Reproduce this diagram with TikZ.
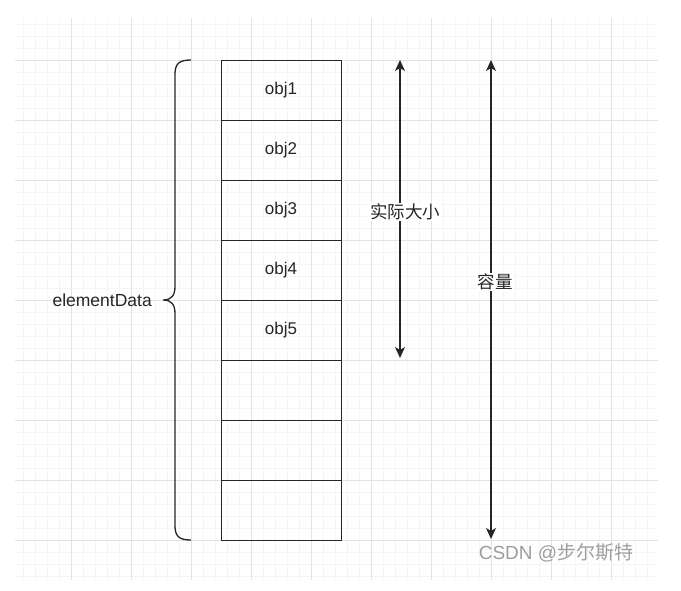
\documentclass[tikz,border=0pt]{standalone}
\usepackage{fontspec}
\setmainfont{Liberation Sans}
\newfontfamily\cjk{Noto Sans CJK SC}
\usetikzlibrary{arrows.meta,positioning}
\tikzset{
    cell/.style={draw=black!85, line width=1pt, minimum width=120pt, minimum height=60pt,
        inner sep=0pt, outer sep=0pt, text=black!85, font=\fontsize{17}{18}\selectfont},
    minorgrid/.style={draw=black!4, line width=0.8pt},
    majorgrid/.style={draw=black!11, line width=1pt},
    span/.style={draw=black!85, line width=1.3pt, {Stealth[length=11pt,width=10pt,inset=3pt]}-{Stealth[length=11pt,width=10pt,inset=3pt]}},
    spanlabel/.style={fill=white, inner sep=1pt, text=black!85, font=\cjk\fontsize{17.5}{18}\selectfont}
}
\begin{document}
\begin{tikzpicture}[x=1pt,y=-1pt]
                \useasboundingbox (0,0) rectangle (681,590);
                \fill[white] (0,0) rectangle (681,590);

                \begin{scope}
                    \clip (15,18) rectangle (658,580);
                    \foreach \x in {23,35,...,659} \draw[minorgrid] (\x,18) -- (\x,580);
                    \foreach \y in {24,36,...,580} \draw[minorgrid] (15,\y) -- (658,\y);
                    \foreach \x in {71,131,...,611} \draw[majorgrid] (\x,18) -- (\x,580);
                    \foreach \y in {60,120,...,540} \draw[majorgrid] (15,\y) -- (658,\y);
                \end{scope}

                \foreach \i in {1,...,8}
                    \node[cell] (cell\i) at (281,30+60*\i) {\ifnum\i<6 obj\i\fi};

                \draw[black!85, line width=1.3pt] (191,60) .. controls (180,60) and (175,63) .. (175,74)
                    -- (175,286) .. controls (175,295) and (172,300) .. (163,300)
                    .. controls (172,300) and (175,305) .. (175,314)
                    -- (175,526) .. controls (175,537) and (180,540) .. (191,540);
                \node[anchor=east, inner sep=0pt, text=black!85, font=\fontsize{17.5}{18}\selectfont] (datalabel) at (152,300) {elementData};

                \coordinate (sizetop) at (400,60);
                \coordinate (sizebot) at (400,358);
                \coordinate (captop) at (491,60);
                \coordinate (capbot) at (491,539);
                \draw[span] (sizetop) -- (sizebot);
                \draw[span] (captop) -- (capbot);
                \node[spanlabel] (sizelabel) at (405,212) {实际大小};
                \node[spanlabel] (caplabel) at (495,282) {容量};

                \node[text=black!38, font=\fontsize{19}{20}\selectfont] (mark) at (556,553) {CSDN @{\cjk 步尔斯特}};
            \end{tikzpicture}
\end{document}
